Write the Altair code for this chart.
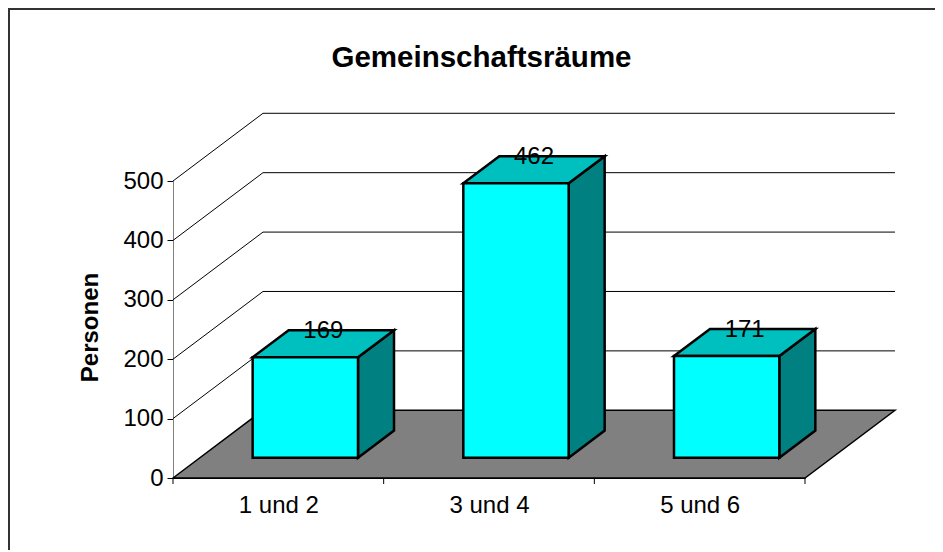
import altair as alt
import pandas as pd

categories = ["1 und 2", "3 und 4", "5 und 6"]
values = [169, 462, 171]
y_ticks = [0, 100, 200, 300, 400, 500]
x_edges = [0, 1, 2, 3]
chart_title = "Gemeinschaftsräume"
y_title = "Personen"

# Oblique depth of the box, in axis units (categories / persons)
DX, DY = 0.4272, 114.0
BAR_FRONT, BAR_BACK = 0.30, 0.70
BAR_W = 0.5
FONT = "Liberation Sans"
W, H = 632, 297

label_expr = "[" + ",".join(f"'{c}'" for c in categories) + "][floor(datum.value)]"
x_axis = alt.Axis(
    values=[0.5, 1.5, 2.5], labelExpr=label_expr, ticks=False, grid=False, title=None,
    domainColor="#000000", domainWidth=1, labelFont=FONT, labelFontSize=24, labelColor="#000000",
    labelPadding=15, labelFlush=False, labelAngle=0)
y_axis = alt.Axis(
    values=y_ticks, title=y_title, grid=False, domainColor="#808080", domainWidth=1,
    tickColor="#000000", tickSize=6, labelFont=FONT, labelFontSize=24, labelColor="#000000",
    labelPadding=4, titleFont=FONT, titleFontSize=24, titleFontWeight="bold",
    titleColor="#000000", titleX=-83, titleY=146, titleAngle=270, titleAlign="center",
    titleBaseline="middle")
xs = alt.Scale(domain=[0, 3], nice=False, zero=False)
ys = alt.Scale(domain=[0, 500], nice=False, zero=False)
X = alt.X("x:Q", scale=xs, axis=x_axis)
Y = alt.Y("y:Q", scale=ys, axis=y_axis)
Y2 = alt.Y2("y2:Q")

# Floor
floor = pd.DataFrame({
    "x": [0, DX, 3, 3 + DX],
    "y": [0, DY, DY, DY],
    "y2": [0, 0, 0, DY],
})
floor_layer = alt.Chart(floor).mark_area(
    color="#808080", stroke="#000000", strokeWidth=1.5, interpolate="linear"
).encode(x=X, y=Y, y2=Y2)

# Wall grid lines
rows = []
for v in y_ticks[1:]:
    rows += [
        {"g": v, "o": 0, "x": 0, "y": v},
        {"g": v, "o": 1, "x": DX, "y": v + DY},
        {"g": v, "o": 2, "x": 3 + DX, "y": v + DY},
    ]
grid_layer = alt.Chart(pd.DataFrame(rows)).mark_line(
    color="#000000", strokeWidth=1
).encode(x=X, y=Y, detail="g:N", order="o:Q")

# Boxes
tops, sides, fronts, labels = [], [], [], []
ddx, ddy = DX * (BAR_BACK - BAR_FRONT), DY * (BAR_BACK - BAR_FRONT)
for i, (c, v) in enumerate(zip(categories, values)):
    x0 = i + 0.5 - BAR_W / 2 + DX * BAR_FRONT
    x1 = x0 + BAR_W
    y0 = DY * BAR_FRONT
    yt = y0 + v
    fronts.append({"c": c, "x": x0, "x2": x1, "y": yt, "y2": y0})
    sides += [
        {"c": c, "x": x1, "y": yt, "y2": y0},
        {"c": c, "x": x1 + ddx, "y": yt + ddy, "y2": y0 + ddy},
    ]
    tops += [
        {"c": c, "x": x0, "y": yt, "y2": yt},
        {"c": c, "x": x0 + ddx, "y": yt + ddy, "y2": yt},
        {"c": c, "x": x1, "y": yt + ddy, "y2": yt},
        {"c": c, "x": x1 + ddx, "y": yt + ddy, "y2": yt + ddy},
    ]
    labels.append({"x": (x0 + x1 + ddx) / 2, "y": yt + ddy, "t": str(v)})

BOX = dict(stroke="#000000", strokeWidth=2.5, strokeJoin="miter", interpolate="linear")
top_layer = alt.Chart(pd.DataFrame(tops)).mark_area(color="#00BFBF", **BOX).encode(
    x=X, y=Y, y2=Y2, detail="c:N")
side_layer = alt.Chart(pd.DataFrame(sides)).mark_area(color="#008080", **BOX).encode(
    x=X, y=Y, y2=Y2, detail="c:N")
front_layer = alt.Chart(pd.DataFrame(fronts)).mark_rect(
    color="#00FFFF", stroke="#000000", strokeWidth=2.5
).encode(x=X, x2="x2:Q", y=Y, y2=Y2)
label_layer = alt.Chart(pd.DataFrame(labels)).mark_text(
    font=FONT, fontSize=24, color="#000000", baseline="middle", align="center", dy=1
).encode(x=X, y=Y, text="t:N")

# Boundary ticks of the category axis
tick_layer = alt.Chart(pd.DataFrame({"x": x_edges})).mark_rule(color="#000000", strokeWidth=1).encode(
    x=X,
    y=alt.value(H),
    y2=alt.value(H + 6),
)

# Chart frame
frame_df = pd.DataFrame({"k": [0]})
frame_top = alt.Chart(frame_df).mark_rule(color="#333333", strokeWidth=2).encode(
    x=alt.value(-165), x2=alt.value(770), y=alt.value(-172))
frame_left = alt.Chart(frame_df).mark_rule(color="#333333", strokeWidth=2).encode(
    x=alt.value(-164), y=alt.value(-173), y2=alt.value(371))

chart = alt.layer(
    frame_top, frame_left, floor_layer, grid_layer, tick_layer,
    side_layer, top_layer, front_layer, label_layer,
).properties(
    width=W, height=H,
    padding={"left": 165, "top": 173, "right": 130, "bottom": 72},
    autosize=alt.AutoSizeParams(type="none"),
    title=alt.TitleParams(chart_title, font=FONT, fontSize=29.5, fontWeight="bold", color="#000000",
                          anchor="middle", frame="group", dx=-7.5, offset=-95, baseline="bottom"),
    background="#FFFFFF",
).configure_view(stroke=None)

chart.save("out.html", embed_options={"renderer": "svg", "actions": False})
